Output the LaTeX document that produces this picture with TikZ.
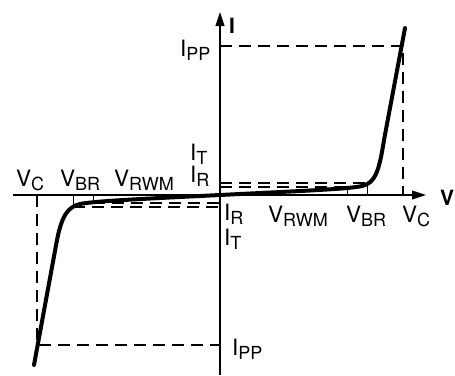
\documentclass[tikz,border=0pt]{standalone}
\usepackage{fontspec}
\setmainfont{TeX Gyre Heros}
\usetikzlibrary{arrows.meta}
\newcommand{\lowtext}[1]{\raisebox{-4pt}{\fontsize{18}{18}\selectfont #1}}

\begin{document}
\begin{tikzpicture}[x=1pt,y=-1pt,
  axis/.style={line width=1.1pt,-{Triangle[length=14pt,width=9pt]}},
  guide/.style={line width=1.1pt,dash pattern=on 12pt off 7pt},
  tick/.style={line width=0.9pt},
  curve/.style={line width=4pt,line cap=round},
  lbl/.style={inner sep=0pt,anchor=base west,font=\fontsize{22.5}{26}\selectfont}]
\useasboundingbox (0,0) rectangle (455,375);
% axes
\coordinate (o) at (220,195);
\coordinate (xs) at (13,195);
\coordinate (xe) at (426,195);
\coordinate (ys) at (220,375);
\coordinate (ye) at (220,12);
\draw [axis] (xs) -- (xe);
\draw [axis] (ys) -- (ye);
\node [lbl,font=\fontsize{21}{24}\selectfont\bfseries] (vaxis) at (440,205) {V};
\node [lbl,font=\fontsize{21}{24}\selectfont\bfseries] (iaxis) at (229,33) {I};
% right side guides
\coordinate (ippr) at (220,46);
\coordinate (cornr) at (403,46);
\coordinate (vcr) at (403,195);
\coordinate (itr) at (220,183);
\coordinate (vbrtop) at (367,183);
\coordinate (vbr) at (367,195);
\coordinate (irr) at (220,187);
\coordinate (vrwmtop) at (347,187);
\coordinate (vrwm) at (347,195);
\draw [guide] (ippr) -- (cornr) -- (vcr);
\draw [guide] (itr) -- (vbrtop);
\draw [tick] (vbrtop) -- (vbr);
\draw [guide] (irr) -- (vrwmtop);
\draw [tick] (vrwmtop) -- (vrwm);
% left side guides
\coordinate (vcl) at (37,195);
\coordinate (cornl) at (37,345);
\coordinate (ippl) at (220,345);
\coordinate (vrwmbot) at (93,203);
\coordinate (vrwml) at (93,195);
\coordinate (irl) at (220,203);
\coordinate (vbrbot) at (73,207);
\coordinate (vbrl) at (73,195);
\coordinate (itl) at (220,207);
\draw [guide] (vcl) -- (cornl) -- (ippl);
\draw [tick] (vrwml) -- (vrwmbot);
\draw [guide] (vrwmbot) -- (irl);
\draw [tick] (vbrl) -- (vbrbot);
\draw [guide] (vbrbot) -- (itl);
% characteristic
\coordinate (topend) at (405,28);
\coordinate (botend) at (34,365);
\draw [curve] (botend) -- (57,240) .. controls (62,215) and (68,207) .. (80,204)
  .. controls (95,201) and (140,199) .. (o)
  .. controls (300,191) and (350,189) .. (362,186)
  .. controls (375,183) and (379,172) .. (384,140) -- (topend);
% labels
\node [lbl] (lvc) at (16,186) {V\lowtext{C}};
\node [lbl] (lvbr) at (60,186) {V\lowtext{BR}};
\node [lbl] (lvrwm) at (114,186) {V\lowtext{RWM}};
\node [lbl] (lit) at (190,160) {I\lowtext{T}};
\node [lbl] (lir) at (190,182) {I\lowtext{R}};
\node [lbl] (rir) at (224,220) {I\lowtext{R}};
\node [lbl] (rit) at (224,245) {I\lowtext{T}};
\node [lbl] (rvrwm) at (268,222) {V\lowtext{RWM}};
\node [lbl] (rvbr) at (346,222) {V\lowtext{BR}};
\node [lbl] (rvc) at (402,222) {V\lowtext{C}};
\node [lbl] (ippt) at (180,56) {I\lowtext{PP}};
\node [lbl] (ippb) at (232,355) {I\lowtext{PP}};
\end{tikzpicture}
\end{document}
